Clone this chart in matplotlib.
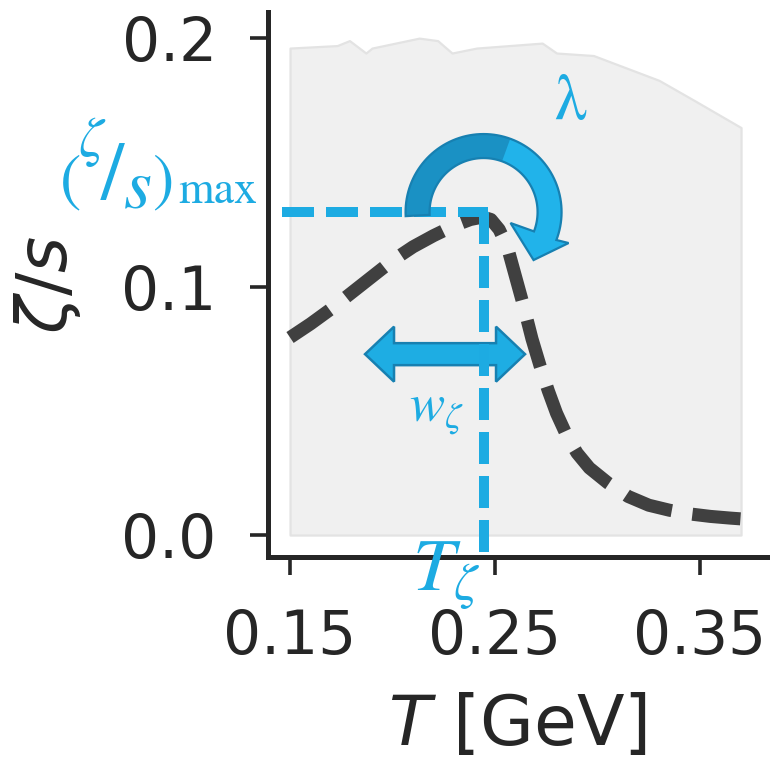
import numpy as np
import matplotlib
matplotlib.use("Agg")
from matplotlib import pyplot as plt
from matplotlib import patches
from matplotlib import transforms as mtransforms

# Bulk viscosity parametrisation (dashed) and prior band (grey)
T_CURVE = [0.150, 0.160, 0.170, 0.180, 0.190, 0.200, 0.210, 0.220, 0.230,
           0.238, 0.244, 0.248, 0.252, 0.256, 0.260, 0.264, 0.268, 0.272,
           0.276, 0.280, 0.285, 0.290, 0.296, 0.305, 0.315, 0.325, 0.335,
           0.345, 0.355, 0.365, 0.370]
ZETA_CURVE = [0.0795, 0.085, 0.091, 0.0975, 0.104, 0.1105, 0.116, 0.1205,
              0.1245, 0.127, 0.128, 0.127, 0.123, 0.116, 0.104, 0.092,
              0.079, 0.068, 0.058, 0.049, 0.040, 0.033, 0.027, 0.021,
              0.0155, 0.012, 0.010, 0.0085, 0.0075, 0.0068, 0.0065]

T_BAND = [0.150, 0.173, 0.179, 0.187, 0.190, 0.213, 0.222, 0.229, 0.241,
          0.273, 0.280, 0.298, 0.314, 0.330, 0.347, 0.370]
BAND_HI = [0.196, 0.197, 0.199, 0.194, 0.196, 0.200, 0.199, 0.194, 0.196,
           0.198, 0.194, 0.193, 0.188, 0.183, 0.175, 0.164]
BAND_LO = 0.0

# Parameters marked on the curve
T_ZETA = 0.2444
ZETA_MAX = 0.130
W_CENTER = (0.2256, 0.0728)

X_TICKS = [0.15, 0.25, 0.35]
X_TICKLABELS = ["0.15", "0.25", "0.35"]
Y_TICKS = [0.0, 0.1, 0.2]
Y_TICKLABELS = ["0.0", "0.1", "0.2"]

# (zeta/s)_max written as a skewed fraction: glyph, x, baseline y (pixels
# from the top-left of the figure), size, italic
ZMAX_PIECES = [("(", 71, 198, 23, False),
               ("ζ", 91, 156, 20, True),
               ("/", 112, 199, 30, False),
               ("s", 138, 207, 26, True),
               (")", 163, 198, 23, False),
               ("max", 218, 203, 16.5, False)]

BLUE = "#1dabe2"
ARROW_LIGHT = "#21b3ea"
ARROW_DARK = "#1a91c4"
ARROW_EDGE = "#1780b1"
INK = "#262626"
DPI = 200
W_PX, H_PX = 772, 762


def px_offset(ax, x, y):
    """Transform for shapes given in pixel offsets around a data point."""
    fig = ax.figure
    return (mtransforms.Affine2D().scale(1 / DPI) + fig.dpi_scale_trans
            + mtransforms.ScaledTranslation(x, y, ax.transData))


def curved_arrow(ax, x, y, zorder=5):
    r_out, r_in, a0, a1 = 78, 54, -21, 183
    th = np.radians(np.linspace(a1, a0, 80))
    outer = np.column_stack([r_out * np.cos(th), r_out * np.sin(th)])
    inner = np.column_stack([r_in * np.cos(th[::-1]), r_in * np.sin(th[::-1])])
    head = np.array([[85, -31], [50, -48], [27, -11]])
    verts = np.vstack([outer, head, inner])
    trans = px_offset(ax, x, y)

    ax.add_patch(patches.Polygon(verts, closed=True, facecolor=ARROW_LIGHT,
                                 edgecolor="none", transform=trans,
                                 zorder=zorder))
    ax.add_patch(patches.Wedge((0, 0), r_out, 70, a1, width=r_out - r_in,
                               facecolor=ARROW_DARK, edgecolor="none",
                               transform=trans, zorder=zorder))
    ax.add_patch(patches.Polygon(verts, closed=True, facecolor="none",
                                 edgecolor=ARROW_EDGE, lw=0.8,
                                 transform=trans, zorder=zorder))


def double_arrow(ax, x, y, zorder=3):
    half, h, hh, hl = 80, 11, 27.5, 29
    verts = [(-half, 0), (-half + hl, hh), (-half + hl, h), (half - hl, h),
             (half - hl, hh), (half, 0), (half - hl, -hh), (half - hl, -h),
             (-half + hl, -h), (-half + hl, -hh)]
    ax.add_patch(patches.Polygon(verts, closed=True, facecolor="#1eade3",
                                 edgecolor=ARROW_EDGE, lw=0.9,
                                 transform=px_offset(ax, x, y),
                                 zorder=zorder))


fig = plt.figure(figsize=(W_PX / DPI, H_PX / DPI), dpi=DPI)
ax = fig.add_axes([0.3472, 0.269, 0.6464, 0.7152])

ax.fill_between(T_BAND, BAND_LO, BAND_HI, facecolor="#f0f0f0",
                edgecolor="#e3e3e3", lw=0.8, zorder=1)
ax.plot(T_CURVE, ZETA_CURVE, ls="--", color="#404040", lw=4.7, zorder=2)

double_arrow(ax, *W_CENTER)

ax.plot([0.1461, T_ZETA + 0.0022], [ZETA_MAX, ZETA_MAX], color=BLUE,
        lw=3.6, dashes=(3.2, 1.2), zorder=4, clip_on=False)
ax.plot([T_ZETA, T_ZETA], [ZETA_MAX, -0.0098], color=BLUE,
        lw=3.6, dashes=(3.2, 1.2), zorder=4, clip_on=False)

curved_arrow(ax, T_ZETA, ZETA_MAX)

pix = mtransforms.Affine2D().scale(1 / DPI) + fig.dpi_scale_trans
for glyph, gx, gy, size, italic in ZMAX_PIECES:
    fig.text(gx, H_PX - gy, glyph, transform=pix, family="STIXGeneral",
             style="italic" if italic else "normal", fontsize=size,
             color=BLUE, ha="center", va="baseline")

ax.text(0.2866, 0.1738, "λ", family="STIXGeneral", fontsize=23,
        color=BLUE, ha="center", va="center")
ax.text(0.2212, 0.0503, r"$w_{\zeta}$", color=BLUE, fontsize=19,
        math_fontfamily="stix", ha="center", va="center", zorder=6)
ax.text(0.2263, -0.0165, r"$T_{\zeta}$", color=BLUE, fontsize=27,
        math_fontfamily="stix", ha="center", va="center", zorder=6)

ax.set_xlim(0.13927, 0.38268)
ax.set_ylim(-0.00885, 0.2105)
ax.set_xticks(X_TICKS)
ax.set_xticklabels(X_TICKLABELS)
ax.set_yticks(Y_TICKS)
ax.set_yticklabels(Y_TICKLABELS)

for side in ("top", "right"):
    ax.spines[side].set_visible(False)
for side in ("left", "bottom"):
    ax.spines[side].set_linewidth(1.8)
    ax.spines[side].set_color(INK)
ax.tick_params(length=6.5, width=1.3, pad=12, labelsize=21.5, colors=INK)
ax.set_facecolor("white")

ax.set_xlabel(r"$T$ [GeV]", fontsize=25, color=INK, labelpad=9)
ax.set_ylabel(r"$\zeta/s$", fontsize=25, color=INK, labelpad=14)

fig.savefig("out.png", dpi=DPI)
